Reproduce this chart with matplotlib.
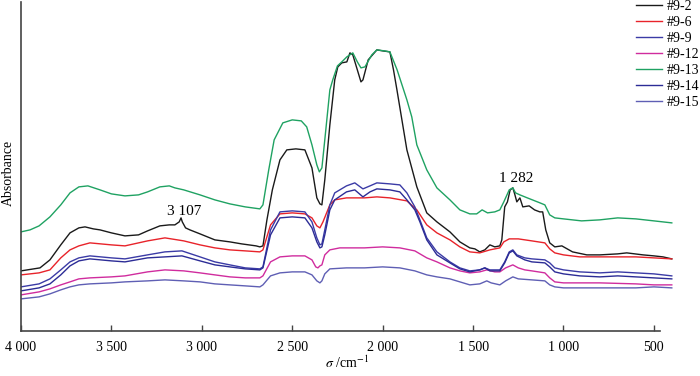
import matplotlib.pyplot as plt

plt.rcParams["font.family"] = ["Liberation Serif", "DejaVu Serif"]
plt.rcParams["mathtext.fontset"] = "stix"

# wavenumber (cm-1) / absorbance (arbitrary, offset)
wn_92 = [4000, 3895, 3840, 3780, 3729, 3680, 3646, 3600, 3563, 3500, 3425, 3350, 3300, 3232, 3180,
         3149, 3125, 3115, 3108, 3090, 3066, 3010, 2928, 2845, 2780, 2700, 2679, 2662, 2640, 2610,
         2568, 2530, 2480, 2430, 2391, 2364, 2347, 2336, 2320, 2292, 2265, 2248, 2226, 2198, 2181,
         2165, 2140, 2120, 2109, 2080, 2032, 2000, 1960, 1940, 1921, 1866, 1811, 1756, 1700, 1628,
         1573, 1518, 1490, 1463, 1435, 1407, 1380, 1352, 1341, 1325, 1310, 1295, 1280, 1270, 1258,
         1241, 1225, 1190, 1160, 1131, 1115, 1098, 1076, 1048, 1009, 950, 871, 799, 700, 650, 560,
         500, 450, 401]
px_92 = [271, 268, 260, 245, 233, 228, 227, 229, 230, 233, 236, 235, 231, 226, 225,
         225, 222, 218, 222, 228, 230, 234, 240, 242, 244, 246, 247, 246, 220, 190,
         160, 150, 149, 150, 168, 198, 204, 205, 180, 125, 80, 67, 63, 62, 53,
         55, 70, 82, 80, 60, 50, 51, 52, 70, 90, 150, 187, 213, 222, 232,
         242, 248, 249, 252, 250, 245, 247, 246, 240, 207, 202, 190, 188, 194, 202,
         198, 207, 206, 210, 212, 212, 230, 243, 247, 246, 252, 255, 255, 254, 253, 255,
         256, 257, 259]

wn_96 = [4000, 3900, 3840, 3780, 3729, 3680, 3619, 3500, 3425, 3300, 3204, 3100, 3010, 2928, 2845,
         2760, 2679, 2662, 2620, 2568, 2500, 2430, 2391, 2364, 2347, 2330, 2292, 2265, 2200, 2100,
         2032, 1960, 1866, 1811, 1756, 1700, 1628, 1573, 1518, 1463, 1407, 1352, 1330, 1300, 1250,
         1175, 1103, 1076, 1048, 1000, 910, 800, 600, 500, 401]
px_96 = [275, 273, 270, 258, 250, 246, 243, 245, 246, 241, 238, 241, 245, 248, 250,
         251, 252, 250, 225, 214, 213, 214, 218, 226, 228, 222, 205, 200, 198, 198,
         197, 198, 201, 210, 225, 233, 240, 247, 252, 253, 250, 248, 242, 239, 239,
         241, 243, 249, 253, 255, 257, 257, 257, 258, 259]

wn_913 = [4000, 3950, 3900, 3840, 3780, 3729, 3680, 3630, 3563, 3500, 3425, 3350, 3300, 3232, 3180,
          3149, 3100, 3010, 2928, 2845, 2760, 2679, 2662, 2630, 2600, 2552, 2500, 2450, 2420, 2391,
          2364, 2350, 2336, 2320, 2292, 2276, 2250, 2226, 2198, 2165, 2140, 2120, 2098, 2060, 2032,
          1990, 1960, 1920, 1866, 1839, 1811, 1756, 1700, 1628, 1573, 1518, 1480, 1450, 1420, 1380,
          1352, 1330, 1300, 1280, 1265, 1241, 1200, 1130, 1103, 1076, 1048, 1000, 900, 800, 700,
          600, 500, 401]
px_913 = [232, 230, 226, 217, 205, 193, 187, 186, 190, 194, 196, 195, 192, 187, 186,
          188, 190, 195, 200, 204, 207, 209, 205, 170, 140, 123, 120, 121, 127, 145,
          165, 172, 168, 140, 90, 80, 66, 62, 57, 53, 62, 68, 67, 55, 50,
          51, 52, 70, 100, 117, 145, 170, 188, 200, 210, 214, 214, 210, 213, 212,
          210, 202, 190, 188, 193, 195, 198, 203, 205, 215, 218, 219, 221, 220, 218,
          219, 221, 223]

wn_99 = [4000, 3900, 3840, 3780, 3729, 3680, 3619, 3500, 3425, 3300, 3204, 3110, 3010, 2928, 2845,
         2760, 2679, 2662, 2620, 2568, 2500, 2430, 2391, 2364, 2347, 2336, 2320, 2292, 2265, 2200,
         2154, 2109, 2070, 2032, 1960, 1905, 1866, 1822, 1794, 1756, 1700, 1628, 1573, 1518, 1463,
         1435, 1407, 1352, 1325, 1300, 1280, 1258, 1214, 1175, 1103, 1076, 1048, 1000, 910, 799,
         700, 600, 500, 401]
px_99 = [287, 284, 279, 270, 262, 258, 256, 258, 259, 255, 252, 251, 257, 262, 265,
         268, 269, 267, 230, 212, 211, 212, 222, 238, 245, 244, 230, 205, 193, 186,
         183, 189, 186, 183, 184, 185, 193, 207, 220, 238, 252, 262, 268, 271, 270,
         268, 270, 270, 262, 252, 250, 255, 258, 259, 260, 263, 268, 270, 272, 273,
         272, 273, 274, 276]

wn_914 = wn_99
px_914 = [291, 288, 284, 275, 266, 261, 259, 261, 262, 258, 257, 256, 261, 265, 267,
          269, 270, 268, 235, 218, 217, 218, 228, 242, 248, 247, 235, 210, 200, 192,
          190, 197, 192, 189, 190, 192, 200, 210, 222, 240, 255, 263, 269, 272, 270,
          268, 271, 271, 263, 253, 251, 256, 260, 262, 263, 267, 272, 274, 276, 277,
          276, 277, 278, 279]

wn_912 = [4000, 3900, 3840, 3780, 3729, 3680, 3619, 3500, 3425, 3300, 3204, 3100, 3010, 2928, 2845,
          2760, 2679, 2662, 2620, 2568, 2500, 2430, 2391, 2370, 2358, 2347, 2336, 2320, 2292, 2237,
          2100, 2000, 1905, 1822, 1756, 1700, 1628, 1573, 1518, 1463, 1424, 1380, 1352, 1320, 1280,
          1250, 1214, 1175, 1103, 1076, 1048, 1000, 800, 600, 500, 401]
px_912 = [295, 292, 289, 285, 282, 279, 278, 277, 276, 272, 270, 271, 273, 275, 277,
          278, 278, 276, 262, 257, 256, 256, 260, 267, 268, 266, 265, 255, 250, 248,
          248, 247, 248, 251, 258, 262, 268, 271, 273, 272, 270, 272, 272, 268, 265,
          268, 270, 271, 273, 278, 282, 283, 283, 284, 285, 285]

wn_915 = [4000, 3900, 3840, 3780, 3729, 3680, 3619, 3500, 3425, 3300, 3204, 3100, 3010, 2928, 2845,
          2760, 2679, 2662, 2620, 2568, 2500, 2430, 2391, 2364, 2347, 2336, 2320, 2292, 2200, 2100,
          2000, 1905, 1822, 1756, 1700, 1628, 1573, 1518, 1463, 1424, 1400, 1352, 1320, 1280, 1250,
          1175, 1103, 1076, 1048, 1000, 800, 600, 500, 401]
px_915 = [299, 297, 294, 290, 287, 285, 284, 283, 282, 281, 280, 281, 282, 284, 285,
          286, 287, 285, 276, 273, 272, 272, 275, 281, 283, 281, 274, 269, 268, 268,
          267, 268, 271, 275, 277, 279, 282, 285, 284, 281, 283, 285, 281, 277, 279,
          280, 281, 285, 287, 288, 288, 288, 287, 288]

labels = ["#9-2", "#9-6", "#9-9", "#9-12", "#9-13", "#9-14", "#9-15"]
colors = ["#1a1a1a", "#e8232a", "#3b3ba6", "#d02c9e", "#1fa262", "#2c2c96", "#5f5fb4"]
series = [(wn_92, px_92), (wn_96, px_96), (wn_99, px_99), (wn_912, px_912),
          (wn_913, px_913), (wn_914, px_914), (wn_915, px_915)]


def to_abs(px):
    # offset absorbance scale taken from the picture's vertical position
    return [(331 - p) / 100 for p in px]


fig = plt.figure(figsize=(7.0, 3.76), dpi=100)
ax = fig.add_axes([0.03, 0.12, 0.931, 0.875])

for (wn, px), label, color in zip(series, labels, colors):
    ax.plot(wn, to_abs(px), color=color, lw=1.0, label=label)

ax.annotate("3 107", xy=(3100, to_abs([212])[0]), ha="center", va="center", fontsize=11)
ax.annotate("1 282", xy=(1262, to_abs([179])[0]), ha="center", va="center", fontsize=11)

ax.set_xlim(4000, 396)
ax.set_ylim(0, 3.29)
ax.set_xticks([4000, 3500, 3000, 2500, 2000, 1500, 1000, 500])
ax.set_xticklabels(["4 000", "3 500", "3 000", "2 500", "2 000", "1 500", "1 000", "500"])
ax.set_yticks([])
ax.tick_params(axis="x", direction="in", length=4, width=1, color="#444444", labelsize=10, pad=7)
for side in ("top", "right"):
    ax.spines[side].set_visible(False)
for side in ("left", "bottom"):
    ax.spines[side].set_color("#444444")
    ax.spines[side].set_linewidth(1.2)
ax.spines["bottom"].set_bounds(468, 4000)

ax.set_xlabel(r"$\sigma$ /cm$^{-1}$", fontsize=10, labelpad=1)
ax.set_ylabel("Absorbance", fontsize=10)
ax.yaxis.set_label_coords(-0.009, 0.48)

ax.legend(loc="upper left", bbox_to_anchor=(0.944, 1.006), frameon=False, fontsize=10,
          handlelength=1.87, handletextpad=0.36, labelspacing=0.22, borderpad=0.0,
          borderaxespad=0.0)

fig.savefig("out.png", dpi=100)
